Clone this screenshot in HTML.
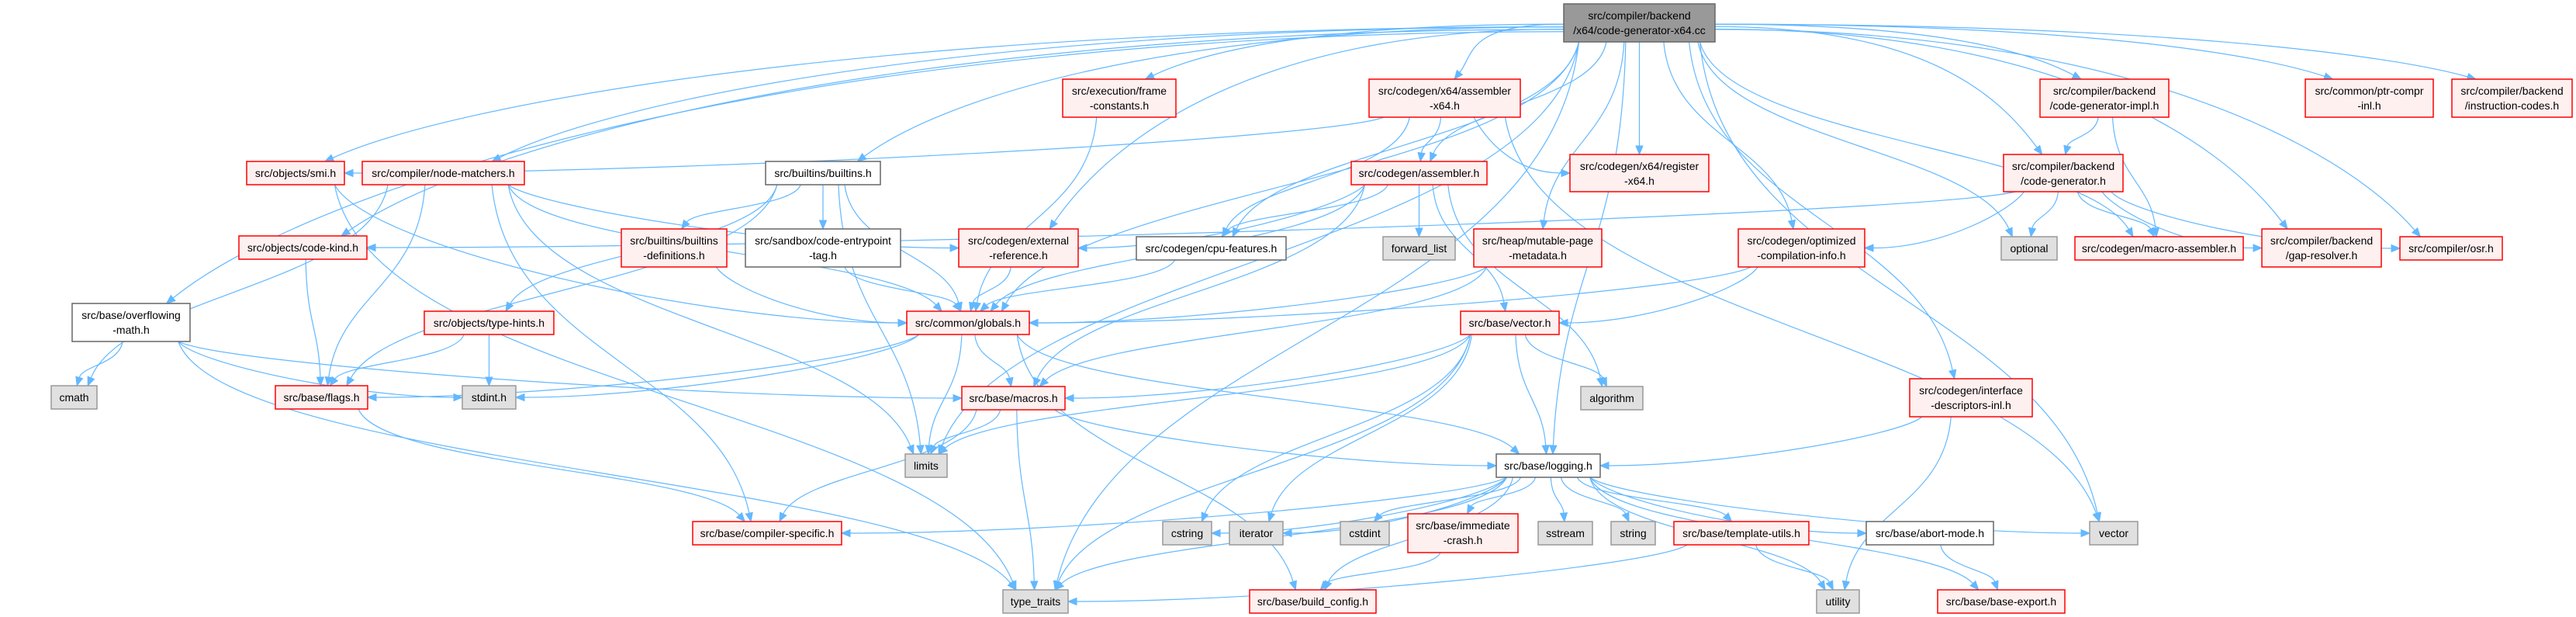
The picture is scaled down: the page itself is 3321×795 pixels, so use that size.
<!DOCTYPE html>
<html><head><meta charset="utf-8">
<style>
html,body{margin:0;padding:0;background:#fff;}
svg{display:block;}
text{font-family:"Liberation Sans",sans-serif;font-size:14px;fill:#000;}
</style></head>
<body>
<svg id="g" width="3321" height="795" viewBox="0 0 3321 795" xmlns="http://www.w3.org/2000/svg">
<g id="edges" fill="none" stroke="#63B8FF" stroke-width="1.2"></g>
<g id="arrows" fill="#63B8FF" stroke="#63B8FF"></g>
<g id="nodes">
<rect x="2016" y="5" width="195" height="49" fill="#999999" stroke="#666666" stroke-width="1.5"/><text x="2113.5" y="25" text-anchor="middle">src/compiler/backend</text><text x="2113.5" y="44" text-anchor="middle">/x64/code-generator-x64.cc</text>
<rect x="318" y="208" width="126" height="30" fill="#FFF0F0" stroke="#FF0000" stroke-width="1.5"/><text x="381" y="228" text-anchor="middle">src/objects/smi.h</text>
<rect x="467" y="208" width="209" height="30" fill="#FFF0F0" stroke="#FF0000" stroke-width="1.5"/><text x="571.5" y="228" text-anchor="middle">src/compiler/node-matchers.h</text>
<rect x="308" y="304" width="165" height="30" fill="#FFF0F0" stroke="#FF0000" stroke-width="1.5"/><text x="390.5" y="324" text-anchor="middle">src/objects/code-kind.h</text>
<rect x="93" y="391" width="152" height="49" fill="#FFFFFF" stroke="#666666" stroke-width="1.5"/><text x="169" y="411" text-anchor="middle">src/base/overflowing</text><text x="169" y="430" text-anchor="middle">-math.h</text>
<rect x="547" y="401" width="167" height="30" fill="#FFF0F0" stroke="#FF0000" stroke-width="1.5"/><text x="630.5" y="421" text-anchor="middle">src/objects/type-hints.h</text>
<rect x="66" y="497" width="59" height="30" fill="#E0E0E0" stroke="#999999" stroke-width="1.5"/><text x="95.5" y="517" text-anchor="middle">cmath</text>
<rect x="355" y="497" width="119" height="30" fill="#FFF0F0" stroke="#FF0000" stroke-width="1.5"/><text x="414.5" y="517" text-anchor="middle">src/base/flags.h</text>
<rect x="596" y="497" width="69" height="30" fill="#E0E0E0" stroke="#999999" stroke-width="1.5"/><text x="630.5" y="517" text-anchor="middle">stdint.h</text>
<rect x="987" y="208" width="148" height="30" fill="#FFFFFF" stroke="#666666" stroke-width="1.5"/><text x="1061" y="228" text-anchor="middle">src/builtins/builtins.h</text>
<rect x="801" y="295" width="136" height="49" fill="#FFF0F0" stroke="#FF0000" stroke-width="1.5"/><text x="869" y="315" text-anchor="middle">src/builtins/builtins</text><text x="869" y="334" text-anchor="middle">-definitions.h</text>
<rect x="961" y="295" width="200" height="49" fill="#FFFFFF" stroke="#666666" stroke-width="1.5"/><text x="1061" y="315" text-anchor="middle">src/sandbox/code-entrypoint</text><text x="1061" y="334" text-anchor="middle">-tag.h</text>
<rect x="1236" y="295" width="154" height="49" fill="#FFF0F0" stroke="#FF0000" stroke-width="1.5"/><text x="1313" y="315" text-anchor="middle">src/codegen/external</text><text x="1313" y="334" text-anchor="middle">-reference.h</text>
<rect x="1169" y="401" width="158" height="30" fill="#FFF0F0" stroke="#FF0000" stroke-width="1.5"/><text x="1248" y="421" text-anchor="middle">src/common/globals.h</text>
<rect x="1370" y="102" width="146" height="49" fill="#FFF0F0" stroke="#FF0000" stroke-width="1.5"/><text x="1443" y="122" text-anchor="middle">src/execution/frame</text><text x="1443" y="141" text-anchor="middle">-constants.h</text>
<rect x="1765" y="102" width="195" height="49" fill="#FFF0F0" stroke="#FF0000" stroke-width="1.5"/><text x="1862.5" y="122" text-anchor="middle">src/codegen/x64/assembler</text><text x="1862.5" y="141" text-anchor="middle">-x64.h</text>
<rect x="1742" y="208" width="175" height="30" fill="#FFF0F0" stroke="#FF0000" stroke-width="1.5"/><text x="1829.5" y="228" text-anchor="middle">src/codegen/assembler.h</text>
<rect x="1465" y="305" width="193" height="30" fill="#FFFFFF" stroke="#666666" stroke-width="1.5"/><text x="1561.5" y="325" text-anchor="middle">src/codegen/cpu-features.h</text>
<rect x="1783" y="305" width="93" height="30" fill="#E0E0E0" stroke="#999999" stroke-width="1.5"/><text x="1829.5" y="325" text-anchor="middle">forward_list</text>
<rect x="1900" y="295" width="165" height="49" fill="#FFF0F0" stroke="#FF0000" stroke-width="1.5"/><text x="1982.5" y="315" text-anchor="middle">src/heap/mutable-page</text><text x="1982.5" y="334" text-anchor="middle">-metadata.h</text>
<rect x="1883" y="401" width="127" height="30" fill="#FFF0F0" stroke="#FF0000" stroke-width="1.5"/><text x="1946.5" y="421" text-anchor="middle">src/base/vector.h</text>
<rect x="2024" y="199" width="179" height="48" fill="#FFF0F0" stroke="#FF0000" stroke-width="1.5"/><text x="2113.5" y="219" text-anchor="middle">src/codegen/x64/register</text><text x="2113.5" y="238" text-anchor="middle">-x64.h</text>
<rect x="2241" y="295" width="163" height="49" fill="#FFF0F0" stroke="#FF0000" stroke-width="1.5"/><text x="2322.5" y="315" text-anchor="middle">src/codegen/optimized</text><text x="2322.5" y="334" text-anchor="middle">-compilation-info.h</text>
<rect x="2583" y="199" width="154" height="48" fill="#FFF0F0" stroke="#FF0000" stroke-width="1.5"/><text x="2660" y="219" text-anchor="middle">src/compiler/backend</text><text x="2660" y="238" text-anchor="middle">/code-generator.h</text>
<rect x="2580" y="305" width="72" height="30" fill="#E0E0E0" stroke="#999999" stroke-width="1.5"/><text x="2616" y="325" text-anchor="middle">optional</text>
<rect x="2462" y="488" width="158" height="49" fill="#FFF0F0" stroke="#FF0000" stroke-width="1.5"/><text x="2541" y="508" text-anchor="middle">src/codegen/interface</text><text x="2541" y="527" text-anchor="middle">-descriptors-inl.h</text>
<rect x="2630" y="102" width="166" height="49" fill="#FFF0F0" stroke="#FF0000" stroke-width="1.5"/><text x="2713" y="122" text-anchor="middle">src/compiler/backend</text><text x="2713" y="141" text-anchor="middle">/code-generator-impl.h</text>
<rect x="2972" y="102" width="165" height="49" fill="#FFF0F0" stroke="#FF0000" stroke-width="1.5"/><text x="3054.5" y="122" text-anchor="middle">src/common/ptr-compr</text><text x="3054.5" y="141" text-anchor="middle">-inl.h</text>
<rect x="3161" y="102" width="155" height="49" fill="#FFF0F0" stroke="#FF0000" stroke-width="1.5"/><text x="3238.5" y="122" text-anchor="middle">src/compiler/backend</text><text x="3238.5" y="141" text-anchor="middle">/instruction-codes.h</text>
<rect x="2675" y="305" width="217" height="30" fill="#FFF0F0" stroke="#FF0000" stroke-width="1.5"/><text x="2783.5" y="325" text-anchor="middle">src/codegen/macro-assembler.h</text>
<rect x="2916" y="295" width="154" height="49" fill="#FFF0F0" stroke="#FF0000" stroke-width="1.5"/><text x="2993" y="315" text-anchor="middle">src/compiler/backend</text><text x="2993" y="334" text-anchor="middle">/gap-resolver.h</text>
<rect x="3094" y="305" width="132" height="30" fill="#FFF0F0" stroke="#FF0000" stroke-width="1.5"/><text x="3160" y="325" text-anchor="middle">src/compiler/osr.h</text>
<rect x="1240" y="498" width="133" height="30" fill="#FFF0F0" stroke="#FF0000" stroke-width="1.5"/><text x="1306.5" y="518" text-anchor="middle">src/base/macros.h</text>
<rect x="2038" y="498" width="80" height="30" fill="#E0E0E0" stroke="#999999" stroke-width="1.5"/><text x="2078" y="518" text-anchor="middle">algorithm</text>
<rect x="1167" y="585" width="54" height="30" fill="#E0E0E0" stroke="#999999" stroke-width="1.5"/><text x="1194" y="605" text-anchor="middle">limits</text>
<rect x="1929" y="585" width="134" height="30" fill="#FFFFFF" stroke="#666666" stroke-width="1.5"/><text x="1996" y="605" text-anchor="middle">src/base/logging.h</text>
<rect x="893" y="672" width="192" height="30" fill="#FFF0F0" stroke="#FF0000" stroke-width="1.5"/><text x="989" y="692" text-anchor="middle">src/base/compiler-specific.h</text>
<rect x="1499" y="672" width="63" height="30" fill="#E0E0E0" stroke="#999999" stroke-width="1.5"/><text x="1530.5" y="692" text-anchor="middle">cstring</text>
<rect x="1585" y="672" width="69" height="30" fill="#E0E0E0" stroke="#999999" stroke-width="1.5"/><text x="1619.5" y="692" text-anchor="middle">iterator</text>
<rect x="1728" y="672" width="63" height="30" fill="#E0E0E0" stroke="#999999" stroke-width="1.5"/><text x="1759.5" y="692" text-anchor="middle">cstdint</text>
<rect x="1815" y="662" width="142" height="50" fill="#FFF0F0" stroke="#FF0000" stroke-width="1.5"/><text x="1886" y="682" text-anchor="middle">src/base/immediate</text><text x="1886" y="701" text-anchor="middle">-crash.h</text>
<rect x="1983" y="672" width="70" height="30" fill="#E0E0E0" stroke="#999999" stroke-width="1.5"/><text x="2018" y="692" text-anchor="middle">sstream</text>
<rect x="2077" y="672" width="57" height="30" fill="#E0E0E0" stroke="#999999" stroke-width="1.5"/><text x="2105.5" y="692" text-anchor="middle">string</text>
<rect x="2158" y="672" width="174" height="30" fill="#FFF0F0" stroke="#FF0000" stroke-width="1.5"/><text x="2245" y="692" text-anchor="middle">src/base/template-utils.h</text>
<rect x="2406" y="672" width="164" height="30" fill="#FFFFFF" stroke="#666666" stroke-width="1.5"/><text x="2488" y="692" text-anchor="middle">src/base/abort-mode.h</text>
<rect x="2694" y="672" width="62" height="30" fill="#E0E0E0" stroke="#999999" stroke-width="1.5"/><text x="2725" y="692" text-anchor="middle">vector</text>
<rect x="1293" y="760" width="84" height="30" fill="#E0E0E0" stroke="#999999" stroke-width="1.5"/><text x="1335" y="780" text-anchor="middle">type_traits</text>
<rect x="1611" y="760" width="163" height="30" fill="#FFF0F0" stroke="#FF0000" stroke-width="1.5"/><text x="1692.5" y="780" text-anchor="middle">src/base/build_config.h</text>
<rect x="2342" y="760" width="55" height="30" fill="#E0E0E0" stroke="#999999" stroke-width="1.5"/><text x="2369.5" y="780" text-anchor="middle">utility</text>
<rect x="2498" y="760" width="164" height="30" fill="#FFF0F0" stroke="#FF0000" stroke-width="1.5"/><text x="2580" y="780" text-anchor="middle">src/base/base-export.h</text>
</g>
</svg>
<script>
var N={root:[2016,5,195,49],smi:[318,208,126,30],nm:[467,208,209,30],ck:[308,304,165,30],om:[93,391,152,49],th:[547,401,167,30],cmath:[66,497,59,30],flags:[355,497,119,30],stdint:[596,497,69,30],bi:[987,208,148,30],bd:[801,295,136,49],ce:[961,295,200,49],er:[1236,295,154,49],gl:[1169,401,158,30],fc:[1370,102,146,49],ax:[1765,102,195,49],as:[1742,208,175,30],cpu:[1465,305,193,30],fl:[1783,305,93,30],mp:[1900,295,165,49],vh:[1883,401,127,30],rx:[2024,199,179,48],oc:[2241,295,163,49],cg:[2583,199,154,48],opt:[2580,305,72,30],id:[2462,488,158,49],cgi:[2630,102,166,49],pc:[2972,102,165,49],ic:[3161,102,155,49],ma:[2675,305,217,30],gr:[2916,295,154,49],osr:[3094,305,132,30],mac:[1240,498,133,30],alg:[2038,498,80,30],lim:[1167,585,54,30],log:[1929,585,134,30],cs:[893,672,192,30],cstring:[1499,672,63,30],iter:[1585,672,69,30],cstdint:[1728,672,63,30],imm:[1815,662,142,50],ss:[1983,672,70,30],str:[2077,672,57,30],tu:[2158,672,174,30],am:[2406,672,164,30],vec:[2694,672,62,30],tt:[1293,760,84,30],bc:[1611,760,163,30],ut:[2342,760,55,30],be:[2498,760,164,30]};
var E={root:"smi nm ck om bi gl er fc cpu ax as rx mp oc log id cgi cg opt ma gr osr pc ic lim vec tt",smi:"gl tt",nm:"gl er cs lim flags cmath",ck:"flags",om:"cmath stdint mac tt",th:"flags stdint",bi:"bd ce gl th flags lim",bd:"gl",ce:"gl",er:"gl",fc:"gl",cpu:"gl",ax:"as cpu rx smi vec",as:"cpu er fl gl mac vh alg",mp:"gl mac",oc:"gl vh",cgi:"cg ma",cg:"opt ma gr osr oc ck",gl:"flags stdint mac lim log bc",flags:"cs",vh:"mac alg log lim tt cstring iter",mac:"lim tt cs log",id:"log ut",log:"cs cstring iter cstdint imm ss str tu am ut be bc vec tt",imm:"bc",tu:"tt ut",am:"be"};
var ns="http://www.w3.org/2000/svg",eg=document.getElementById("edges"),ag=document.getElementById("arrows");
for(var s in E){E[s].split(" ").forEach(function(t){
 var a=N[s],b=N[t];
 var acx=a[0]+a[2]/2,bcx=b[0]+b[2]/2,abot=a[1]+a[3],btop=b[1],bcy=b[1]+b[3]/2;
 var dx=bcx-acx,dy=btop-abot;
 var sx,sy,c1x,c1y,ex,ey,c2x,c2y;
 var side=Math.abs(dx)>3.2*Math.max(dy,1);
 if(side&&s=="root"){sx=dx<0?a[0]:a[0]+a[2];sy=a[1]+a[3]*0.5+Math.max(-18,Math.min(18,dy/30));c1x=sx+dx*0.5;c1y=sy;}
 else{var off=Math.max(-a[2]*0.4,Math.min(a[2]*0.4,dx*0.15));sx=acx+off;sy=abot;c1x=sx+dx*0.05;c1y=sy+dy*0.5;}
 if(Math.abs(dx)>5*Math.max(dy,1)&&s!="root"){ex=dx<0?b[0]+b[2]:b[0];ey=bcy;c2x=ex-dx*0.3;c2y=ey;}
 else{var o2=Math.max(-b[2]*0.3,Math.min(b[2]*0.3,-dx*0.05));ex=bcx+o2;ey=btop;c2x=ex-dx*0.1;c2y=ey-(ey-sy)*0.45;}
 var ux=ex-c2x,uy=ey-c2y,L=Math.sqrt(ux*ux+uy*uy)||1;ux/=L;uy/=L;
 var bx=ex-ux*11,by=ey-uy*11;
 var p=document.createElementNS(ns,"path");
 p.setAttribute("d","M"+sx+","+sy+" C"+c1x+","+c1y+" "+c2x+","+c2y+" "+bx+","+by);
 eg.appendChild(p);
 var q=document.createElementNS(ns,"polygon"),px=-uy*4.5,py=ux*4.5;
 q.setAttribute("points",ex+","+ey+" "+(bx+px)+","+(by+py)+" "+(bx-px)+","+(by-py));
 ag.appendChild(q);
});}
</script>
</body></html>
